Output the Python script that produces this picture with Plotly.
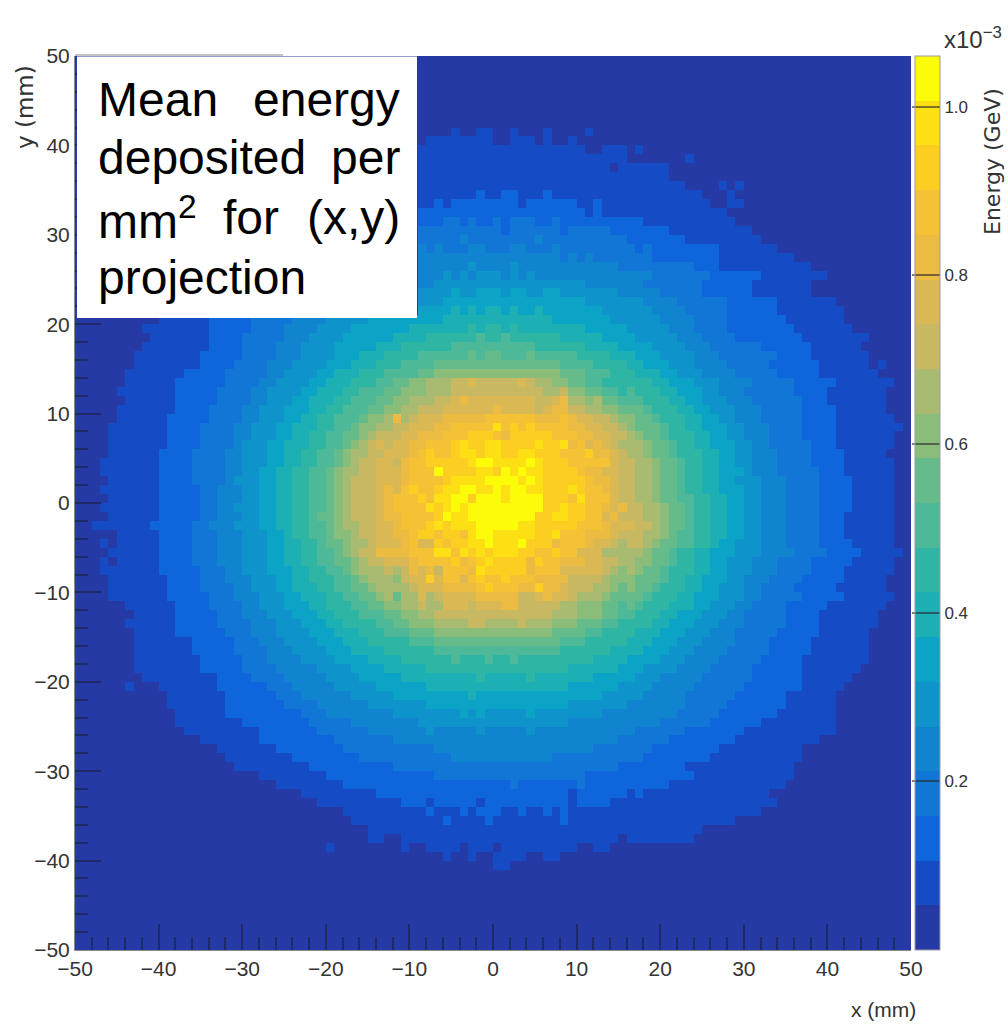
import plotly.graph_objects as go

# Colour band index of each 1 mm cell, row by row from y=+50 down.
# Each row: cells left of x=0 (ending at x=0) | cells right of x=0 (starting at x=0). Missing cells = band 0.
FIRST_ROW = 8
BAND_ROWS = [
"10011|001000100001",
"11111111|0011101001",
"111111111|111111111110011101",
"111111111|111111111111111100000001",
"111111111|111111111111110111111",
"111111111|111111111111111111111",
"111111111|111111111111111111111110000101",
"111111121|12211121111111111111111110001",
"112122222|222122222211211111111111110011",
"222222222|2222222222212111111111111111",
"222332322|32333223222222222211111111111",
"333333333|32333333233333222222211111111 11".replace(" ",""),
"333334333|33333433333333332222222111111111",
"434333443|3344333433333333323222222221111111",
"444444444|444444443434333333322222222111111111",
"444444544|4454444444444443333333332221111111111 1".replace(" ",""),
"444545455|54545444444444444443333333222222111 11111".replace(" ",""),
"445555555|555555555554444444333333322222211111 11".replace(" ",""),
"555565566|6566556655555554444433333222222111 1111".replace(" ",""),
"555666666|66666666666555555544443333332222221111111",
"666676767|767667666666655555544443333322222211111111",
"111111222223333344445555566666666677777 7|777777766666665555554444333322222221111111".replace(" ",""),
"11111111222223333444455556666666777777 7878|87877777777666665555544433332222222211 11111".replace(" ",""),
"11111112222333334445555666666777788888898|8988888877777666655555444333322222222 11111111".replace(" ",""),
"11111111222233334445555666667778888889 9999|99999888888777766665555444333333222222 111111".replace(" ",""),
"11111111222223333444555566677788889 99999a9a|a999a99999888877766655554443333333222 21111111".replace(" ",""),
"11111111222233334445555666777888 9999aaaaaaa|aaaaaaaa9999888877666555444433333222222 11111101".replace(" ",""),
"1111111222223333344555566777888 9999aabbbbbbb|bbbbbbbbaaa999888777665554444333332222 21111111".replace(" ",""),
"1111112222223333445555667778889 99aabbccccccc|ccccccccbbbaa9998887766655544443333322222 1111111".replace(" ",""),
"1111111222223333445555667778899 9aabbccccddddd|dddddcccccbbbaa9988877666554443333332222 1111111".replace(" ",""),
"11111122222333344555667778899 9abbcccddddddde|deddddddccccbbaa998887766555444 333333222 1111111".replace(" ",""),
"1111111222233334455566677889 99abbccddddeeeeee|eeeeeeeddddcccbaaa98887766555444 33333222 2111111".replace(" ",""),
"111111222223333445556677889 99abbccdddeeeeefff|fffffeeeedddcccbbaa9888776655444 33333222 21111111".replace(" ",""),
"1111111222233334455566777889 9abbcddddeeeffffff|ffffffffeeeddcccbaaa98877666554443333 22221111 1111".replace(" ",""),
"11111112222333344555667788 99aabcddddeeefffffgf|ffgfffffffeedddccbaa9888776655444 3333222 21111111".replace(" ",""),
"1111111222233334555667778899 abcddddeeeffffgggg|gggggggffffeedddccbaa988776665544333 33222 1111111".replace(" ",""),
"111111222233334455566778899 abccdddeeefffgghhhh|hhghhhgggfffeeddccbaa9888776655444 3333222 211111".replace(" ",""),
"11111112222333344555667788 99abcdddeeefffgghhhhi|hihhhihhhgfffeeddccbaa988776655444 33332222 111111".replace(" ",""),
"111111122223333445566778899 abccdddeeeffgghhhhii|ijiiihhhhhgfffeddccbaa988776 66544433333222 111111".replace(" ",""),
"11111122223333455566778899 abcdddeeefffgghhiiji|jijjiiihhhhgffeddccbaa98877665 554443333 222211111".replace(" ",""),
"1111111222223344455667788 99abcdddeeeffgghhiijjj|jjjjjiiihhhgffeddccbaa988776665 5444333322221 1111".replace(" ",""),
"11111122222334445566778899 abcdddeeeffgghhiijjj|jjjjjjiiihhgffeddccbaa9988776655444 333322221 1111".replace(" ",""),
"1111111222223344 55566778899abcdddeeeffgghhijjjj|jjjjjjjiiihhgffeddccbaa988776655444 3333222211111".replace(" ",""),
"111111222223344455667788 9aabcdddeeeffgghhijjjj|jjjjjjjiiihhgffeddccbaa98877665 5444333322211 1111".replace(" ",""),
"1111111222223344455566778899 abccdddeeeffgghijjjj|jjjjijjiihhhgffeeddcbaa98877665544 433332221 11111".replace(" ",""),
"11111222233344455566788 99abbcdddeeeffgghhijjj|jjjjjjiiihhggfeeddccba9988776655 4443333222 111111".replace(" ",""),
"1011111222233344455566778 89aabccdddeeeffgghhijj|jjjjjiiihhggffeeddcbaa9988766555 4443333 222211111".replace(" ",""),
"11111122223334445556677889 9abcdddeeefffggghhhi|ihhijhgggfffeeddccbaa9887766 655544443333222 211111".replace(" ",""),
"10111112222333444555667788 99aabcdddeeeffffggggh|hggggggffffeeddccbbaa98877665 5544433332222 211111".replace(" ",""),
"111111122222333445556667788 99abccdddeeefffffggg|gggggfffffeedddccbaa98887766555 4443333222 2111111".replace(" ",""),
"111111122223334445556677888 99abccdddeeefffffff|fffffffffeedddccbaaa98877666554 44333322222 11111".replace(" ",""),
"11111112222333344555667778899 aabccddddeeefffff|fffffffeedddd ccbbaa988877665554 433332222 2111111".replace(" ",""),
"1111111222223334445556677788 99aabccdddddeeefef|eeeeeeeddddcccbbaa9888776 665554433333222 22111111".replace(" ",""),
"111111222233334455566677888 99aabbccddddddddd|ddddedddddccbbaaa988877766555 44333322222 1111111".replace(" ",""),
"111112222233344455566677888 999aabbccddddddd|dddddddcccbbbaa99888776665554 4333332222 1111111".replace(" ",""),
"11111122222333344455566677888 899aabbbccccddc|cccdcccbbbaaa998888776665554 4433333222 21111111".replace(" ",""),
"1111122222233344455556667778889 99aaabbbbbbb|bbbbbbbaaaa998888777666555444 33333222 22111111".replace(" ",""),
"1111111222223334445555666777888 88999aaaaaaa|aaaaaaaa99988888777666555444 433332222 21111111".replace(" ",""),
"1111111222223333444555566677778 88888999 9999|9999999988888877776665554444 33333222 221111111".replace(" ",""),
"11111111222223334444555566667777 88888898889|889888888888777766665554444 33333222 2211111111".replace(" ",""),
"1111111122222333344444555566667777 788888888|888888888777777666555544443333 32222221111111".replace(" ",""),
"111111111222233334444455556666677777 777787|77778777777766666555444443 33333222222111111".replace(" ",""),
"10001111111222222333444445555566666677777777|777777777666666555544444333333 222222211111".replace(" ",""),
"111111122222233344444455555666666666766|66666666666665555544444333333222222111111",
"1111111222222233334444445555555666666 66|666666666555555544444443333322222 22111111".replace(" ",""),
"111111222222222333444444445555555 56565|55556555555554444444443333322222 221111111".replace(" ",""),
"1111111122222222333334444444455 5555555|55555555544444444444333333222222 111111111".replace(" ",""),
"111111111222222233333344444445 4444454|44445444444444444333333222222211 111111111".replace(" ",""),
"11111112222222223333333 444444444444|44444444444444433333322222222 1111111111".replace(" ",""),
"1111111222222223333333333 34444444|444444444444333333322222222 1111111111".replace(" ",""),
"1111111122222222333333333334 4444|444444433333333333222222221 1111111111".replace(" ",""),
"11111111122222222223333333 33333|33333333333333322222222 1111111111111".replace(" ",""),
"11111111222222222222 23333333|3333333333322222222222221 11111111111".replace(" ",""),
"11111111222222222222222222|22322222223222222222 211111111111111".replace(" ",""),
"11111111122222222222222|22222222212222221 2111111111111111".replace(" ",""),
"11111111112221222221 2|22222222212222 11111111111111111111".replace(" ",""),
"1111111111211121 22|211211212 11111111111111111111111".replace(" ",""),
"111111111112111 12|11111111211111111111111111111".replace(" ",""),
"111111111111111|1111111111111111111111111",
"1100111111111 11|111111111111111011111111".replace(" ",""),
"100000000100111 10111|0111111111001 1".replace(" ",""),
"100100|111100 11".replace(" ",""),
"|11",
]

# Cell-by-cell reading of the grainy core: rows 36..61 from the top, columns 36..65 from the left.
CORE_FIRST_ROW = 36
CORE_FIRST_COL = 36
CORE_ROWS = [
"99aabbcccddedddddedccbbaa99888",
"9aabbbcccdddddddddddccdbbaa998",
"aabbcccddefeeeeeeeeddefccbcaa9",
"abbccdddeeeeeefeeeedeffddccbba",
"bcfcdeeefffffggggggfffgfeeddcb",
"ccddeeeffgggggighghggggffeeddc",
"dddeefffggghhhgfhhhhhgggffeedd",
"edeeffggghihhiihhhhihhifgefedc",
"deeefghgghiihiihhiihhhggghffed",
"eedfgghhhhhijjiiiijihhhggggged",
"eeefgggjhhhhiihjijiihhhhgffeed",
"eeefgggghiiiijjjjijihhhhhgffed",
"efeghgghiijjiijijjiihhhihggfed",
"efggghgiijjhjjjijjjjhhhgiggged",
"efggggihijijjjjjjjjjhhihhggfef",
"effgggghjiijjjjjjjjhhiihhggefd",
"eefggghihiiijjjjjiihhhhhgggfee",
"eeffghhghhgijjiiiiihhigggfffed",
"eeefgeehghhiijiiijhhhfgggfeedc",
"ffffgggiigihihiiihhgghggeeeccc",
"deeefgggghfghihhhhfhggfffeeddc",
"cdcdfefdgggfihhhhhfgggeeeeedcb",
"ccbdeeheggeghgghgggffffddddcbb",
"ccccdeeeffffghgggffhffedddccba",
"bcaccecdeeeefffffddefeedcccbaa",
"abbccdcceeedeeeffdddddccbbbaa9",
]

X_TICKS = [-50, -40, -30, -20, -10, 0, 10, 20, 30, 40, 50]
Y_TICKS = [-50, -40, -30, -20, -10, 0, 10, 20, 30, 40, 50]
CB_TICKS = [0.2, 0.4, 0.6, 0.8, 1.0]
BAND_COLOURS = [
    "#263AA6", "#164BC6", "#0F65DC", "#1276D6", "#1184D0", "#0E93CB", "#0BA4C7", "#1CB0B4",
    "#2EB5A3", "#4DB998", "#66BB8B", "#8ABC7A", "#A9BB70", "#C8B861", "#DAB853", "#ECBB41",
    "#F5C135", "#FDCE22", "#FDE014", "#FCFB08",
]
BAND_STEP = 0.053
N = 100


def band_value(ch):
    return (int(ch, 20) + 0.5) * BAND_STEP


def band_row(text):
    left, right = text.split("|")
    cells = left.rjust(N // 2, "0")[-N // 2:] + right.ljust(N // 2, "0")[:N // 2]
    return [band_value(ch) for ch in cells]


rows = [band_row("|") for _ in range(FIRST_ROW)] + [band_row(t) for t in BAND_ROWS]
rows += [band_row("|") for _ in range(N - len(rows))]
for i, text in enumerate(CORE_ROWS):
    for j, ch in enumerate(text):
        rows[CORE_FIRST_ROW + i][CORE_FIRST_COL + j] = band_value(ch)
z = rows[::-1]
x_c = [-49.5 + i for i in range(N)]
y_c = [-49.5 + i for i in range(N)]

scale = []
for i, c in enumerate(BAND_COLOURS):
    scale += [[i / 20, c], [(i + 1) / 20, c]]

L, R, T, B = 75, 911, 56, 950
px = lambda v: (v - L) / (R - L)
py = lambda v: 1 - (v - T) / (B - T)
SANS = "Liberation Sans"
TXT = "#333333"

fig = go.Figure(go.Heatmap(
    x=x_c, y=y_c, z=z, zmin=0, zmax=1.06, colorscale=scale, xgap=0, ygap=0,
    colorbar=dict(
        x=px(915), xanchor="left", y=0.5, yanchor="middle", len=1.0, thickness=25,
        xpad=0, ypad=0, outlinewidth=1, outlinecolor="#9a9aa8",
        tickvals=CB_TICKS, ticktext=[f"{v:.1f}" for v in CB_TICKS], ticks="inside", ticklen=28,
        tickwidth=2, tickcolor="rgba(40,40,40,0.6)", tickfont=dict(family=SANS, size=17, color=TXT),
    ),
))

axis_common = dict(
    range=[-50, 50], autorange=False, ticks="inside", ticklen=26, tickwidth=1.5, tickcolor="#1d2a6a",
    showgrid=False, zeroline=False, showline=True, linecolor="#8a8a92", linewidth=1,
    tickfont=dict(family=SANS, size=21, color=TXT),
    minor=dict(ticks="inside", ticklen=13, tickwidth=1.5, tickcolor="#1d2a6a", dtick=2, tick0=0, showgrid=False),
)
fig.update_layout(
    width=1008, height=1028, margin=dict(l=L, r=1008 - R, t=T, b=1028 - B, autoexpand=False),
    paper_bgcolor="white", plot_bgcolor="white", showlegend=False,
    xaxis=dict(tickvals=X_TICKS, ticktext=[str(v).replace("-", "\u2212") for v in X_TICKS], **axis_common),
    yaxis=dict(tickvals=Y_TICKS, ticktext=[str(v).replace("-", "\u2212") for v in Y_TICKS], **axis_common),
    shapes=[
        dict(type="rect", xref="paper", yref="paper", x0=px(77), x1=px(417), y0=py(318), y1=py(56.5),
             fillcolor="white", line=dict(width=0), layer="above"),
        dict(type="line", xref="paper", yref="paper", x0=px(75), x1=px(283), y0=py(55), y1=py(55),
             line=dict(color="#8a8a8a", width=1), layer="above"),
    ],
)


def note(text, x, y, size=48, anchor="left", font=SANS, color="black", angle=0):
    fig.add_annotation(text=text, xref="paper", yref="paper", x=px(x), y=py(y), xanchor=anchor, yanchor="middle",
                       showarrow=False, textangle=angle, font=dict(family=font, size=size, color=color))


note("Mean", 96, 100)
note("energy", 402, 100, anchor="right")
note("deposited", 96, 158)
note("per", 402, 158, anchor="right")
note("mm<sup>2</sup>", 96, 218)
note("for", 221, 218)
note("(x,y)", 402, 218, anchor="right")
note("projection", 96, 277)
note("y (mm)", 25, 107, size=23, anchor="center", font="DejaVu Sans", color=TXT, angle=-90)
note("x (mm)", 883, 1009, size=21, anchor="center", color=TXT)
note("Energy (GeV)", 992, 162, size=22, anchor="center", font="DejaVu Sans", color=TXT, angle=-90)
note("x10<sup>\u22123</sup>", 973, 38, size=24, anchor="center", color=TXT)

fig.write_html("out.html", post_script="document.body.style.margin='0';", config={"displayModeBar": False})
